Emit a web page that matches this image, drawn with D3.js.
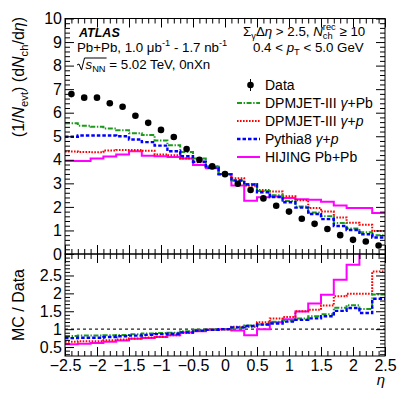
<!DOCTYPE html>
<html>
<head>
<meta charset="utf-8">
<script src="https://cdn.jsdelivr.net/npm/d3@7"></script>
<style>
	body { margin: 0; background: #fff; }
	svg { display: block; }
	text { white-space: pre; }
</style>
</head>
<body>
<svg id="chart" width="407" height="395"></svg>
<script>
// bin centres in eta (0.2 wide bins)
const etaBins = [-2.4, -2.2, -2.0, -1.8, -1.6, -1.4, -1.2, -1.0, -0.8, -0.6, -0.4, -0.2, 0.0,
	0.2, 0.4, 0.6, 0.8, 1.0, 1.2, 1.4, 1.6, 1.8, 2.0, 2.2, 2.4];
const binWidth = 0.2;

// (1/Nevt) dNch/deta
const dataVals = [6.79, 6.64, 6.64, 6.40, 6.25, 5.87, 5.57, 5.27, 4.97, 4.46, 4.00, 3.72, 3.39,
	2.98, 2.72, 2.36, 2.05, 1.80, 1.50, 1.28, 1.06, 0.80, 0.60, 0.53, 0.36];
const dpmjetPb = [5.55, 5.45, 5.40, 5.33, 5.25, 5.13, 5.05, 4.82, 4.62, 4.33, 4.05, 3.72, 3.40,
	3.12, 2.97, 2.68, 2.50, 2.25, 2.02, 1.76, 1.60, 1.32, 1.08, 0.92, 0.80];
const dpmjetP = [4.35, 4.33, 4.32, 4.40, 4.42, 4.42, 4.38, 4.23, 4.19, 4.05, 3.90, 3.72, 3.40,
	3.22, 2.90, 2.72, 2.65, 2.45, 2.28, 1.95, 1.80, 1.55, 1.33, 1.24, 0.98];
const pythia8 = [4.98, 5.03, 5.03, 5.03, 5.00, 4.86, 4.75, 4.60, 4.36, 4.15, 3.92, 3.66, 3.38,
	3.12, 2.95, 2.62, 2.42, 2.20, 1.97, 1.70, 1.48, 1.19, 1.02, 0.84, 0.70];
const hijing = [3.95, 3.95, 4.05, 4.14, 4.22, 4.36, 4.17, 4.15, 4.12, 4.05, 3.78, 3.64, 3.40,
	2.91, 2.26, 2.41, 2.44, 2.38, 2.33, 2.30, 2.22, 2.06, 1.95, 1.95, 1.74];

// MC / Data
const ratioDpmjetPb = [0.81, 0.82, 0.82, 0.83, 0.84, 0.86, 0.88, 0.89, 0.90, 0.94, 0.98, 0.99, 1.00,
	1.04, 1.10, 1.13, 1.21, 1.24, 1.30, 1.36, 1.42, 1.60, 1.67, 1.56, 1.97];
const ratioDpmjetP = [0.65, 0.66, 0.66, 0.69, 0.71, 0.74, 0.77, 0.79, 0.83, 0.89, 0.95, 0.99, 0.99,
	1.07, 1.07, 1.19, 1.30, 1.34, 1.50, 1.54, 1.66, 1.92, 1.99, 1.99, 2.61];
const ratioPythia8 = [0.75, 0.76, 0.76, 0.78, 0.80, 0.82, 0.84, 0.86, 0.87, 0.91, 0.96, 0.98, 1.00,
	1.05, 1.09, 1.13, 1.16, 1.21, 1.26, 1.30, 1.36, 1.51, 1.59, 1.45, 1.85];
const ratioHijing = [0.58, 0.59, 0.61, 0.65, 0.68, 0.73, 0.75, 0.78, 0.83, 0.91, 0.94, 0.98, 1.00,
	0.96, 0.83, 1.00, 1.19, 1.28, 1.49, 1.72, 1.96, 2.38, 2.80, 3.60, 4.80];

const xTicks = [-2.5, -2, -1.5, -1, -0.5, 0, 0.5, 1, 1.5, 2, 2.5];
const yTicks = [0, 1, 2, 3, 4, 5, 6, 7, 8, 9, 10];
const rTicks = [0.5, 1, 1.5, 2, 2.5];

const FONT = '"Liberation Sans", Arial, Helvetica, sans-serif';

const series = [
	{name: 'hijing', main: hijing, ratio: ratioHijing, color: '#ff00ff', dash: null, width: 2},
	{name: 'dpmjetP', main: dpmjetP, ratio: ratioDpmjetP, color: '#ff0000', dash: '1.6,1.4', width: 2},
	{name: 'dpmjetPb', main: dpmjetPb, ratio: ratioDpmjetPb, color: '#1c9a1c', dash: '5,1.6,1.4,1.6', width: 2},
	{name: 'pythia8', main: pythia8, ratio: ratioPythia8, color: '#0000ff', dash: '3.5,2', width: 2.4},
];

const svg = d3.select('#chart');
svg.append('rect').attr('width', 407).attr('height', 395).attr('fill', '#fff');

const left = 65, right = 385;
const mainTop = 18.5, mainBot = 254, ratBot = 356;

const x = d3.scaleLinear().domain([-2.5, 2.5]).range([left, right]);
const y = d3.scaleLinear().domain([0, 10]).range([mainBot, mainTop]);
const yr = d3.scaleLinear().domain([0.25, 3.1]).range([ratBot, mainBot]);

const defs = svg.append('defs');
defs.append('clipPath').attr('id', 'clipMain').append('rect')
	.attr('x', left).attr('y', mainTop).attr('width', right - left).attr('height', mainBot - mainTop);
defs.append('clipPath').attr('id', 'clipRatio').append('rect')
	.attr('x', left).attr('y', mainBot).attr('width', right - left).attr('height', ratBot - mainBot);

// text with sub/superscripts, built piece by piece
function richText(parent, px, py, parts, size, anchor){
	let g = parent.append('g').attr('font-family', FONT).attr('fill', '#000');
	let cx = 0;
	parts.forEach(p => {
		if(p.t){
			let t = g.append('text').attr('x', cx).attr('y', 0).attr('font-size', size)
				.attr('font-style', p.it ? 'italic' : null)
				.attr('font-weight', p.bold ? 'bold' : null)
				.text(p.t);
			cx += t.node().getComputedTextLength();
		}
		if(p.sub || p.sup){
			let wmax = 0;
			if(p.sup){
				let t = g.append('text').attr('x', cx).attr('y', -size*0.42).attr('font-size', size*0.7).text(p.sup);
				wmax = Math.max(wmax, t.node().getComputedTextLength());
			}
			if(p.sub){
				let t = g.append('text').attr('x', cx).attr('y', size*0.25).attr('font-size', size*0.7)
					.attr('font-style', p.subIt ? 'italic' : null).text(p.sub);
				wmax = Math.max(wmax, t.node().getComputedTextLength());
			}
			cx += wmax;
		}
	});
	let ox = px;
	if(anchor === 'end') ox = px - cx;
	if(anchor === 'middle') ox = px - cx/2;
	g.attr('transform', `translate(${ox},${py})`);
	return cx;
}

function stepPoints(vals){
	let pts = etaBins.map((c, i) => [c - binWidth/2, vals[i]]);
	pts.push([etaBins[etaBins.length-1] + binWidth/2, vals[vals.length-1]]);
	return pts;
}

function drawTicks(yScale, yMajor, yMinorStep, top, bot, xLabels, yFmt){
	let g = svg.append('g');
	let xMinor = d3.range(-25, 26).map(d => d/10).filter(d => !xTicks.some(t => Math.abs(t-d) < 1e-6));
	let yDom = yScale.domain();
	let yMinor = d3.range(Math.ceil(yDom[0]/yMinorStep), Math.floor(yDom[1]/yMinorStep)+1)
		.map(d => d*yMinorStep).filter(d => !yMajor.some(t => Math.abs(t-d) < 1e-6));

	let clean = s => { s.select('.domain').remove(); s.attr('font-family', FONT).attr('font-size', 16); };

	// x: bottom and top
	g.append('g').attr('transform', `translate(0,${bot})`)
		.call(d3.axisBottom(x).tickValues(xMinor).tickSize(-5).tickFormat('')).call(clean);
	g.append('g').attr('transform', `translate(0,${bot})`)
		.call(d3.axisBottom(x).tickValues(xTicks).tickSize(-9).tickPadding(4)
			.tickFormat(xLabels ? d3.format('~g') : '')).call(clean);
	g.append('g').attr('transform', `translate(0,${top})`)
		.call(d3.axisTop(x).tickValues(xMinor).tickSize(-5).tickFormat('')).call(clean);
	g.append('g').attr('transform', `translate(0,${top})`)
		.call(d3.axisTop(x).tickValues(xTicks).tickSize(-9).tickFormat('')).call(clean);

	// y: left and right
	g.append('g').attr('transform', `translate(${left},0)`)
		.call(d3.axisLeft(yScale).tickValues(yMinor).tickSize(-5).tickFormat('')).call(clean);
	g.append('g').attr('transform', `translate(${left},0)`)
		.call(d3.axisLeft(yScale).tickValues(yMajor).tickSize(-9).tickPadding(3).tickFormat(yFmt)).call(clean);
	g.append('g').attr('transform', `translate(${right},0)`)
		.call(d3.axisRight(yScale).tickValues(yMinor).tickSize(-5).tickFormat('')).call(clean);
	g.append('g').attr('transform', `translate(${right},0)`)
		.call(d3.axisRight(yScale).tickValues(yMajor).tickSize(-9).tickFormat('')).call(clean);

	g.selectAll('.tick text').attr('fill', '#000');
	g.selectAll('.tick line').attr('stroke', '#000').attr('stroke-width', 1);

	g.append('rect').attr('x', left).attr('y', top).attr('width', right-left).attr('height', bot-top)
		.attr('fill', 'none').attr('stroke', '#000').attr('stroke-width', 1);
}

// ---- main panel ----
let mainG = svg.append('g').attr('clip-path', 'url(#clipMain)');
let lineMain = d3.line().x(d => x(d[0])).y(d => y(d[1])).curve(d3.curveStepAfter);
series.forEach(s => {
	mainG.append('path').attr('d', lineMain(stepPoints(s.main)))
		.attr('fill', 'none').attr('stroke', s.color).attr('stroke-width', s.width)
		.attr('stroke-dasharray', s.dash);
});
mainG.selectAll('circle.data').data(etaBins).enter().append('circle')
	.attr('class', 'data')
	.attr('cx', d => x(d)).attr('cy', (d, i) => y(dataVals[i])).attr('r', 3.3)
	.attr('fill', '#000');

drawTicks(y, yTicks, 0.2, mainTop, mainBot, false, d3.format('d'));

// ---- ratio panel ----
let ratG = svg.append('g').attr('clip-path', 'url(#clipRatio)');
ratG.append('line').attr('x1', left).attr('x2', right).attr('y1', yr(1)).attr('y2', yr(1))
	.attr('stroke', '#222').attr('stroke-width', 1.3).attr('stroke-dasharray', '3,3');
let lineRat = d3.line().x(d => x(d[0])).y(d => yr(d[1])).curve(d3.curveStepAfter);
series.forEach(s => {
	ratG.append('path').attr('d', lineRat(stepPoints(s.ratio)))
		.attr('fill', 'none').attr('stroke', s.color).attr('stroke-width', s.width)
		.attr('stroke-dasharray', s.dash);
});

drawTicks(yr, rTicks, 0.1, mainBot, ratBot, true, d3.format('~g'));

// ---- axis titles ----
let ytG = svg.append('g').attr('transform', 'translate(24,17) rotate(-90)');
richText(ytG, 0, 0, [
	{t: '(1/'}, {t: 'N', it: true}, {sub: 'evt'}, {t: ') (d'}, {t: 'N', it: true}, {sub: 'ch'},
	{t: '/d'}, {t: 'η', it: true}, {t: ')'}
], 16, 'end');

let rtG = svg.append('g').attr('transform', 'translate(24,305) rotate(-90)');
richText(rtG, 0, 0, [{t: 'MC / Data'}], 16, 'middle');

richText(svg, 385, 385, [{t: 'η', it: true}], 15, 'end');

// ---- labels ----
richText(svg, 79, 37, [{t: 'ATLAS', it: true, bold: true}], 12.5);
richText(svg, 77, 52, [{t: 'Pb+Pb, 1.0 μb'}, {sup: '-1'}, {t: ' - 1.7 nb'}, {sup: '-1'}], 13.3);

// sqrt(s_NN)
let sx0 = 77, sy0 = 69;
let sw = richText(svg, sx0 + 8.5, sy0, [{t: 's', it: true}, {sub: 'NN'}], 13.3);
svg.append('path')
	.attr('d', `M${sx0},${sy0-4} L${sx0+2},${sy0-5} L${sx0+4.5},${sy0+1} L${sx0+7.5},${sy0-11} H${sx0+8.5+sw+1}`)
	.attr('fill', 'none').attr('stroke', '#000').attr('stroke-width', 1);
richText(svg, sx0 + 8.5 + sw, sy0, [{t: ' = 5.02 TeV, 0nXn'}], 13.3);

richText(svg, 243, 36, [
	{t: 'Σ'}, {sub: 'γ'}, {t: 'Δ'}, {t: 'η', it: true}, {t: ' > 2.5, '}, {t: 'N', it: true},
	{sup: 'rec', sub: 'ch'}, {t: ' ≥ 10'}
], 13.3);
richText(svg, 253, 52, [{t: '0.4 < '}, {t: 'p', it: true}, {sub: 'T'}, {t: ' < 5.0 GeV'}], 13.3);

// ---- legend ----
const legendRows = [
	{key: 'data', y: 85, parts: [{t: 'Data'}]},
	{key: 'dpmjetPb', y: 103, parts: [{t: 'DPMJET-III '}, {t: 'γ', it: true}, {t: '+Pb'}]},
	{key: 'dpmjetP', y: 121, parts: [{t: 'DPMJET-III '}, {t: 'γ', it: true}, {t: '+'}, {t: 'p', it: true}]},
	{key: 'pythia8', y: 139, parts: [{t: 'Pythia8 '}, {t: 'γ', it: true}, {t: '+'}, {t: 'p', it: true}]},
	{key: 'hijing', y: 157, parts: [{t: 'HIJING Pb+Pb'}]},
];
legendRows.forEach(r => {
	if(r.key === 'data'){
		svg.append('line').attr('x1', 250.5).attr('x2', 250.5).attr('y1', r.y-6).attr('y2', r.y+6)
			.attr('stroke', '#000').attr('stroke-width', 1);
		svg.append('circle').attr('cx', 250.5).attr('cy', r.y).attr('r', 3.3).attr('fill', '#000');
	}else{
		let s = series.find(d => d.name === r.key);
		svg.append('line').attr('x1', 237).attr('x2', 260).attr('y1', r.y).attr('y2', r.y)
			.attr('stroke', s.color).attr('stroke-width', s.width).attr('stroke-dasharray', s.dash);
	}
	richText(svg, 265, r.y + 5, r.parts, 14);
});
</script>
</body>
</html>
